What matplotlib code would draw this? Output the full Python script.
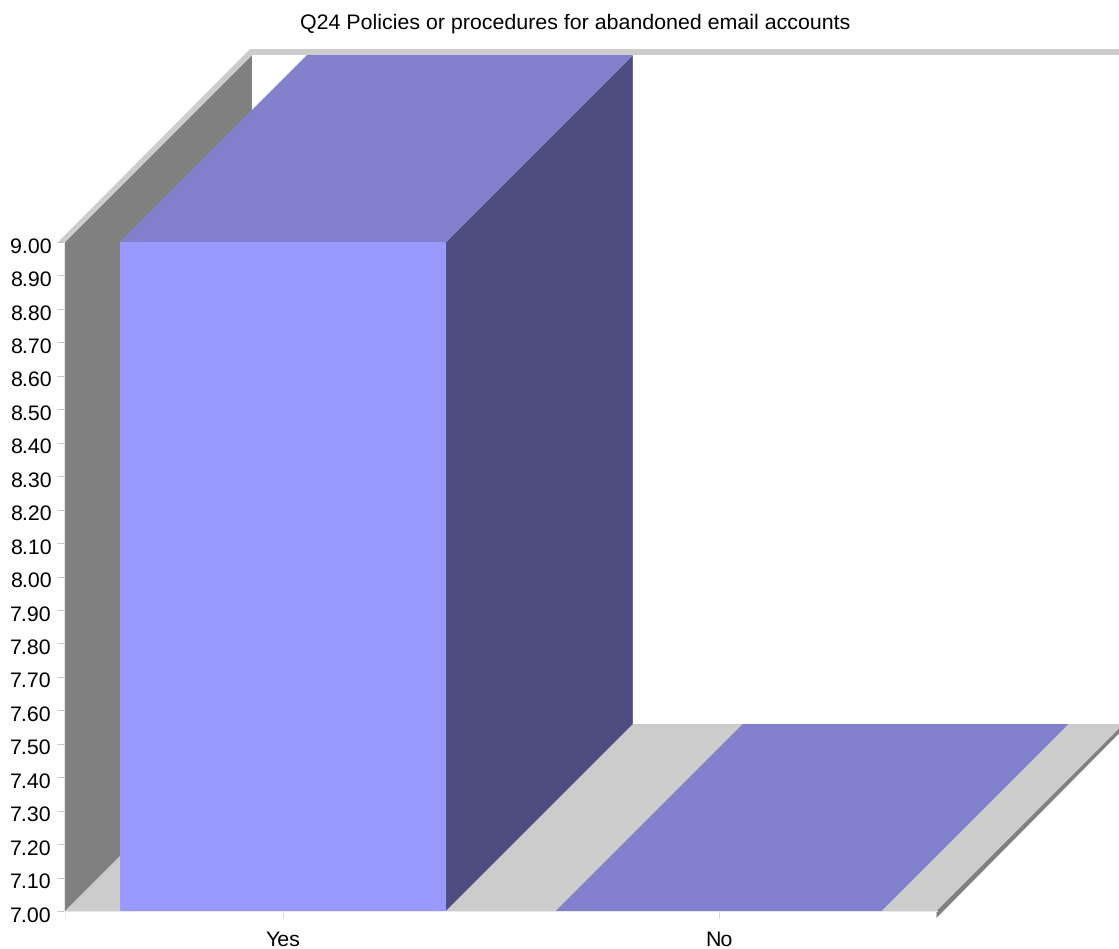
import matplotlib
matplotlib.use("Agg")
import matplotlib.pyplot as plt
from matplotlib.patches import Polygon

plt.rcParams['font.family'] = ['Liberation Sans', 'DejaVu Sans']
plt.rcParams['text.hinting'] = 'no_hinting'
plt.rcParams['text.hinting_factor'] = 8

title = "Q24 Policies or procedures for abandoned email accounts"
categories = ["Yes", "No"]
values = [9.0, 7.0]
y_ticks = [7.0, 7.1, 7.2, 7.3, 7.4, 7.5, 7.6, 7.7, 7.8, 7.9, 8.0,
           8.1, 8.2, 8.3, 8.4, 8.5, 8.6, 8.7, 8.8, 8.9, 9.0]

W, H = 1119, 949
L, R, T, B = 65, 936.5, 242, 911
DEPTH = 187
FS = 15.4
fig = plt.figure(figsize=(W / 100, H / 100), dpi=100, facecolor="white")
ax = fig.add_axes([L / W, 1 - B / H, (R - L) / W, (B - T) / H])
ax.set_xlim(-0.5, 1.5)
ax.set_ylim(7, 9)
ax.patch.set_visible(False)

px_x = 2 / (R - L)
px_y = 2 / (B - T)
ddx, ddy = DEPTH * px_x, DEPTH * px_y
x0, x1, y0, y1 = -0.5, 1.5, 7.0, 9.0


def poly(points, color, z):
    ax.add_patch(Polygon(points, closed=True, facecolor=color, edgecolor="none",
                         clip_on=False, zorder=z))


# floor, left wall and the rims
poly([(x0, y0), (x1, y0), (x1 + ddx, y0 + ddy), (x0 + ddx, y0 + ddy)], "#cccccc", 1)
poly([(x0, y0), (x0 + ddx, y0 + ddy), (x0 + ddx, y1 + ddy), (x0, y1)], "#808080", 1)
poly([(x1, y0), (x1, y0 - 7 * px_y), (x1 + ddx, y0 + ddy - 5 * px_y), (x1 + ddx, y0 + ddy)],
     "#808080", 1)
poly([(x0 - 7 * px_x, y1), (x0, y1), (x0 + ddx, y1 + ddy), (x1 + ddx, y1 + ddy),
      (x1 + ddx, y1 + ddy + 6 * px_y), (x0 + ddx - 2 * px_x, y1 + ddy + 6 * px_y)],
     "#cccccc", 1)

# bars
width = 0.748
for i, v in enumerate(values):
    a, b = i - width / 2, i + width / 2
    ax.bar(i, v - y0, width=width, bottom=y0, color="#9999ff", zorder=3, clip_on=False)
    poly([(a, v), (b, v), (b + ddx, v + ddy), (a + ddx, v + ddy)], "#8080cc", 2.9)
    poly([(b, y0), (b + ddx, y0 + ddy), (b + ddx, v + ddy), (b, v)], "#4d4d80", 2.8)

ax.set_xticks([0, 1], categories)
ax.set_yticks(y_ticks)
ax.tick_params(axis="y", length=5, width=0.72, color="#c8c8b0", labelleft=False)
ax.tick_params(axis="x", length=5, width=0.72, color="#d8d8c8", labelsize=FS, pad=9)
ax.yaxis.get_major_ticks()[0].tick1line.set_visible(False)
ax.yaxis.get_major_ticks()[-1].tick1line.set_visible(False)
for t in y_ticks:
    ax.annotate(f"{t:.2f}", (x0, t), xytext=(-13, -5), textcoords="offset pixels",
                ha="right", va="center", fontsize=FS, color="black", annotation_clip=False)
for s in ("top", "right"):
    ax.spines[s].set_visible(False)
ax.spines["left"].set_position(("outward", 0.72))
for s in ("left", "bottom"):
    ax.spines[s].set_color("#e8e8e8")
    ax.spines[s].set_linewidth(0.72)
ax.plot([x0, x0], [y0, y0 - 7 * px_y], color="#e8e8e8", lw=0.72, clip_on=False)

fig.text(575 / W, 1 - 23 / H, title, ha="center", va="center", fontsize=FS, color="black")
fig.savefig("out.png", dpi=100)
